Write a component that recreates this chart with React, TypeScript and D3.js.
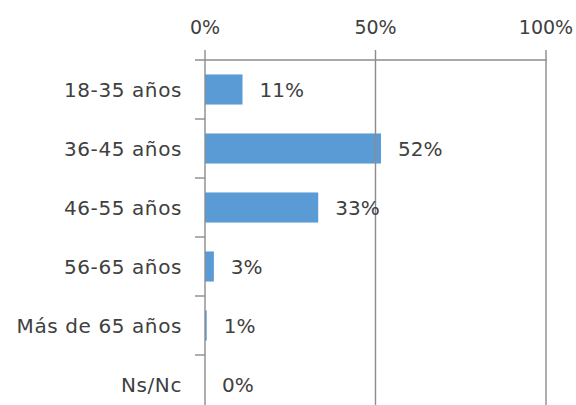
import React from "react";
import * as d3 from "d3";

const categories = ["18-35 años", "36-45 años", "46-55 años", "56-65 años", "Más de 65 años", "Ns/Nc"];
const values = [11, 51.6, 33.2, 2.6, 0.5, 0];
const xTicks = [0, 50, 100];

const W = 576;
const H = 405;
const FONT = "'DejaVu Sans', sans-serif";
const TEXT = "#404040";
const GRID = "#8c8c8c";
const BAR = "#5B9BD5";

export default function App() {
  const x = d3.scaleLinear().domain([0, 100]).range([205, 546]);
  const y = d3.scaleBand<string>().domain(categories).range([60, 414]).paddingInner(0.49).paddingOuter(0.245);
  const step = y.step();
  const boundaries = categories.map((c) => (y(c) as number) - y.paddingInner() * step / 2 + step);
  const fmt = (v: number) => `${Math.round(v)}%`;

  return (
    <svg width={W} height={H} style={{ position: "absolute", left: 0, top: 0, background: "#fff" }} fontFamily={FONT}>
      {/* bars */}
      {categories.map((c, i) => (
        <rect key={"b" + c} x={x(0)} y={y(c)} width={x(values[i]) - x(0)} height={y.bandwidth()} fill={BAR} />
      ))}
      {/* gridlines */}
      {xTicks.map((t) => (
        <line key={"g" + t} x1={x(t)} x2={x(t)} y1={50} y2={H} stroke={GRID} strokeWidth={1.4} />
      ))}
      {/* top axis line */}
      <line x1={x(0) - 10} x2={x(100) + 1} y1={60} y2={60} stroke={GRID} strokeWidth={1.4} />
      {/* category ticks */}
      {boundaries.map((b, i) => (
        <line key={"t" + i} x1={x(0) - 10} x2={x(0)} y1={b} y2={b} stroke={GRID} strokeWidth={1.4} />
      ))}
      {/* value labels */}
      {categories.map((c, i) => (
        <text key={"v" + c} x={x(values[i]) + 17} y={(y(c) as number) + y.bandwidth() / 2} dy="0.36em" fontSize={20} fill={TEXT}>
          {fmt(values[i])}
        </text>
      ))}
      {/* category labels */}
      {categories.map((c) => (
        <text key={"c" + c} x={182} y={(y(c) as number) + y.bandwidth() / 2} dy="0.36em" textAnchor="end" fontSize={20} letterSpacing={0.6} fill={TEXT}>
          {c}
        </text>
      ))}
      {/* x tick labels */}
      {xTicks.map((t) => (
        <text key={"x" + t} x={x(t)} y={34} textAnchor="middle" fontSize={19} fill={TEXT}>
          {`${t}%`}
        </text>
      ))}
    </svg>
  );
}
